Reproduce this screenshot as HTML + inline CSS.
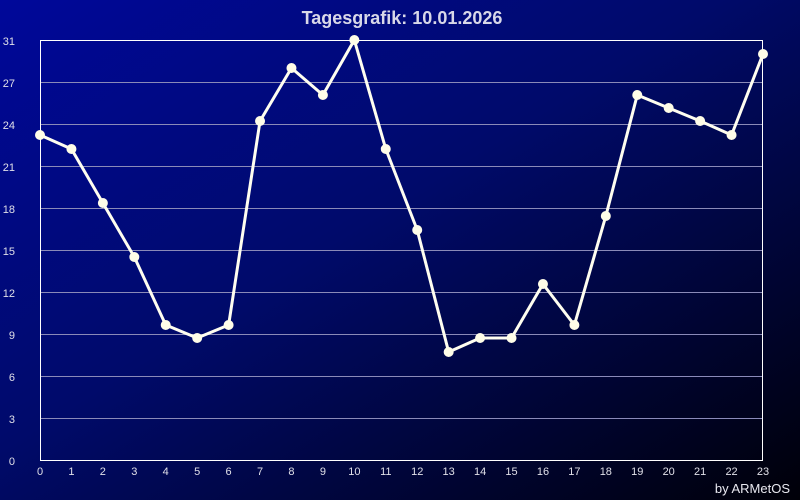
<!DOCTYPE html><html><head><style>body{margin:0}svg{display:block}</style></head><body>
<svg width="800" height="500" xmlns="http://www.w3.org/2000/svg" font-family="Liberation Sans, sans-serif">
<defs><linearGradient id="g" x1="0" y1="0" x2="1" y2="1"><stop offset="0" stop-color="#00089a"/><stop offset="0.45" stop-color="#000a6a"/><stop offset="1" stop-color="#000008"/></linearGradient></defs>
<rect width="800" height="500" fill="url(#g)"/>
<text x="402" y="24" fill="#d8d8e8" font-size="18" font-weight="bold" text-anchor="middle">Tagesgrafik: 10.01.2026</text>
<g stroke="#8a8ab8" stroke-width="1">
<line x1="40" y1="82.5" x2="763" y2="82.5"/><line x1="40" y1="124.5" x2="763" y2="124.5"/><line x1="40" y1="166.5" x2="763" y2="166.5"/><line x1="40" y1="208.5" x2="763" y2="208.5"/><line x1="40" y1="250.5" x2="763" y2="250.5"/><line x1="40" y1="292.5" x2="763" y2="292.5"/><line x1="40" y1="334.5" x2="763" y2="334.5"/><line x1="40" y1="376.5" x2="763" y2="376.5"/><line x1="40" y1="418.5" x2="763" y2="418.5"/>
</g>
<rect x="40.5" y="40.5" width="722" height="420" fill="none" stroke="#fff" stroke-width="1"/>
<g fill="#e0e0e8" font-size="11" text-anchor="end">
<text x="15" y="45">31</text><text x="15" y="87">27</text><text x="15" y="129">24</text><text x="15" y="171">21</text><text x="15" y="213">18</text><text x="15" y="255">15</text><text x="15" y="297">12</text><text x="15" y="339">9</text><text x="15" y="381">6</text><text x="15" y="423">3</text><text x="15" y="465">0</text>
</g>
<g fill="#e0e0e8" font-size="11" text-anchor="middle" id="xl"></g>
<polyline id="pl" fill="none" stroke="#fffef0" stroke-width="3" stroke-linejoin="round"/>
<g id="dots" fill="#fffde8"></g>
<text x="790" y="493" fill="#e8e8f0" font-size="13" text-anchor="end">by ARMetOS</text>
<script>
var ys=[135,149,203,257,325,338,325,121,68,95,40,149,230,352,338,338,284,325,216,95,108,121,135,54];
var ns="http://www.w3.org/2000/svg",pts=[],xl=document.getElementById('xl'),d=document.getElementById('dots');
for(var h=0;h<24;h++){var x=40+h*723/23;pts.push(x+","+ys[h]);
var t=document.createElementNS(ns,"text");t.setAttribute("x",x);t.setAttribute("y",475);t.textContent=h;xl.appendChild(t);
var c=document.createElementNS(ns,"circle");c.setAttribute("cx",x);c.setAttribute("cy",ys[h]);c.setAttribute("r",5);d.appendChild(c);}
document.getElementById('pl').setAttribute("points",pts.join(" "));
</script>
</svg></body></html>
